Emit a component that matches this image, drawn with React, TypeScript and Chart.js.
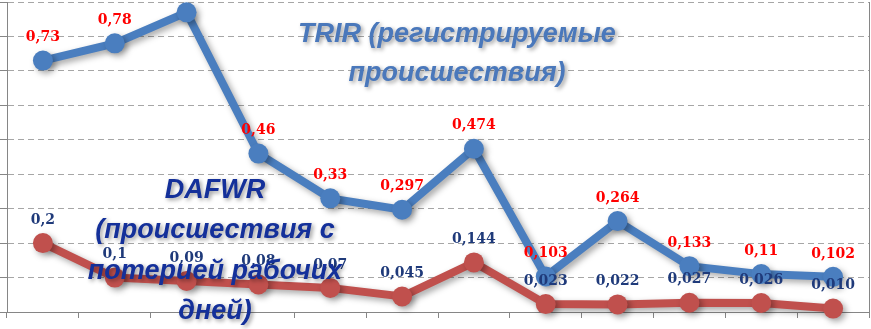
import React, { useEffect, useRef } from "react";
import { Chart, registerables } from "chart.js";

Chart.register(...registerables);

const categories = ["1", "2", "3", "4", "5", "6", "7", "8", "9", "10", "11", "12"];
const trirValues = [0.73, 0.78, 0.87, 0.46, 0.33, 0.297, 0.474, 0.103, 0.264, 0.133, 0.11, 0.102];
const trirLabels = ["0,73", "0,78", "", "0,46", "0,33", "0,297", "0,474", "0,103", "0,264", "0,133", "0,11", "0,102"];
const dafwrValues = [0.2, 0.1, 0.09, 0.08, 0.07, 0.045, 0.144, 0.023, 0.022, 0.027, 0.026, 0.01];
const dafwrLabels = ["0,2", "0,1", "0,09", "0,08", "0,07", "0,045", "0,144", "0,023", "0,022", "0,027", "0,026", "0,010"];
const trirTitle = ["TRIR (регистрируемые", "происшествия)"];
const dafwrTitle = ["DAFWR", "(происшествия с", "потерией рабочих", "дней)"];

const BLUE = "#4a7ebf";
const RED = "#c0504d";

const shadowPlugin = {
  id: "lineShadow",
  beforeDatasetsDraw(chart: any) {
    const c = chart.ctx;
    c.save();
    c.shadowColor = "rgba(0,0,0,0.35)";
    c.shadowBlur = 6;
    c.shadowOffsetX = 3;
    c.shadowOffsetY = 3;
  },
  afterDatasetsDraw(chart: any) {
    chart.ctx.restore();
  },
};

const overlayPlugin = {
  id: "overlay",
  afterDraw(chart: any) {
    const c = chart.ctx;
    const area = chart.chartArea;
    // right border of plot area
    c.save();
    c.strokeStyle = "#868686";
    c.lineWidth = 1;
    c.beginPath();
    c.moveTo(area.right + 0.5, area.top);
    c.lineTo(area.right + 0.5, area.bottom);
    c.stroke();
    c.restore();

    // data labels
    const drawLabels = (dsIndex: number, labels: string[], color: string) => {
      const meta = chart.getDatasetMeta(dsIndex);
      c.save();
      c.font = "bold 14px 'DejaVu Serif'";
      c.fillStyle = color;
      c.textAlign = "center";
      c.textBaseline = "middle";
      meta.data.forEach((pt: any, i: number) => {
        const t = labels[i];
        if (!t) return;
        c.fillText(t, pt.x, pt.y - 23);
      });
      c.restore();
    };
    drawLabels(0, trirLabels, "#ff0000");
    drawLabels(1, dafwrLabels, "#1f3a7a");

    // annotation titles
    const drawTitle = (lines: string[], cx: number, y0: number, lh: number, color: string) => {
      c.save();
      c.font = "italic bold 27px 'Liberation Sans'";
      c.textAlign = "center";
      c.textBaseline = "alphabetic";
      c.shadowColor = "rgba(0,0,0,0.4)";
      c.shadowBlur = 4;
      c.shadowOffsetX = 2;
      c.shadowOffsetY = 2;
      c.fillStyle = color;
      lines.forEach((l, i) => c.fillText(l, cx, y0 + i * lh));
      c.restore();
    };
    drawTitle(trirTitle, 457, 42, 39, "#4a78bb");
    drawTitle(dafwrTitle, 215, 198, 40.3, "#14309a");
  },
};

export default function App() {
  const ref = useRef<HTMLCanvasElement | null>(null);
  useEffect(() => {
    document.body.style.margin = "0";
    if (!ref.current) return;
    const chart = new Chart(ref.current, {
      type: "line",
      data: {
        labels: categories,
        datasets: [
          {
            label: "TRIR",
            data: trirValues,
            borderColor: BLUE,
            backgroundColor: BLUE,
            borderWidth: 8,
            pointRadius: 10,
            pointBorderWidth: 0,
            pointBackgroundColor: BLUE,
            tension: 0,
            clip: false as any,
          },
          {
            label: "DAFWR",
            data: dafwrValues,
            borderColor: RED,
            backgroundColor: RED,
            borderWidth: 8,
            pointRadius: 10,
            pointBorderWidth: 0,
            pointBackgroundColor: RED,
            tension: 0,
            clip: false as any,
          },
        ],
      },
      options: {
        responsive: false,
        animation: false,
        layout: { autoPadding: false, padding: { left: 0, right: 2, top: 2, bottom: 11 } },
        plugins: {
          legend: { display: false },
          tooltip: { enabled: false },
          title: { display: false },
        },
        scales: {
          x: {
            offset: true,
            grid: {
              offset: true,
              drawOnChartArea: false,
              drawTicks: true,
              tickLength: 6,
              tickColor: "#868686",
            },
            border: { display: true, color: "#868686", width: 1 },
            ticks: { display: false },
          },
          y: {
            min: 0,
            max: 0.9,
            ticks: { display: false, stepSize: 0.1 },
            grid: {
              color: "#a6a6a6",
              lineWidth: 1,
              drawTicks: true,
              tickLength: 7,
              tickColor: "#868686",
              tickBorderDash: [],
            },
            border: { display: true, color: "#868686", width: 1, dash: [6, 4] },
          },
        },
      } as any,
      plugins: [shadowPlugin, overlayPlugin],
    });
    return () => chart.destroy();
  }, []);
  return (
    <div style={{ width: 871, height: 329, background: "#fff" }}>
      <canvas ref={ref} width={871} height={329} style={{ display: "block" }} />
    </div>
  );
}
